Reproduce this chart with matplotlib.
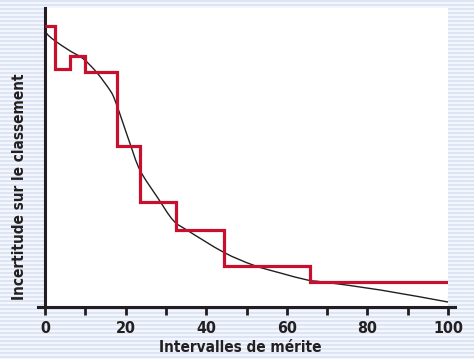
import numpy as np
import matplotlib
matplotlib.use("Agg")
import matplotlib.pyplot as plt
from matplotlib.path import Path
from matplotlib.patches import PathPatch

# smooth uncertainty curve
curve_x = [0, 0.5, 2.5, 6.2, 9.5, 12.9, 16.2, 17.4, 19.4, 21.1, 23.6, 27.9,
           31.8, 35.3, 44.3, 51.7, 58.5, 65.2, 69.2, 83.3, 100]
curve_y = [278, 273, 266, 256, 248, 234, 216, 206, 183, 163, 136, 109,
           86, 76, 54, 41, 33, 26, 24, 16, 4]

# step function (interval edges and level in each interval)
step_edges = [0, 2.5, 6.2, 10, 17.9, 23.6, 32.6, 44.3, 65.7, 100]
step_vals = [281, 238, 251, 235, 161, 104, 76, 40, 24]

xticks_major = [0, 20, 40, 60, 80, 100]
xticks_minor = [10, 30, 50, 70, 90]

font = ['Liberation Sans Narrow', 'DejaVu Sans']
txt_col = '#231f20'

W, H = 474, 359
fig = plt.figure(figsize=(W / 100, H / 100), dpi=100)
fig.patch.set_facecolor('#f3f6fc')

# striped background
bg = fig.add_axes([0, 0, 1, 1], zorder=-1)
bg.set_xlim(0, W)
bg.set_ylim(H, 0)
bg.axis('off')
for yy in np.arange(0.5, H, 4):
    bg.axhline(yy, color='#dbe4f4', lw=1.3)

ax = fig.add_axes([45 / W, 52 / H, 403 / W, 299 / H])
ax.set_facecolor('white')
ax.set_xlim(0, 100)
ax.set_ylim(-1, 299)

# smooth the read points with bezier segments (catmull-rom style)
px = np.array(curve_x, float)
py = np.array(curve_y, float)
verts = [(px[0], py[0])]
codes = [Path.MOVETO]
for i in range(len(px) - 1):
    p0 = (px[max(i - 1, 0)], py[max(i - 1, 0)])
    p1 = (px[i], py[i])
    p2 = (px[i + 1], py[i + 1])
    p3 = (px[min(i + 2, len(px) - 1)], py[min(i + 2, len(px) - 1)])
    c1 = (p1[0] + (p2[0] - p0[0]) / 6, p1[1] + (p2[1] - p0[1]) / 6)
    c2 = (p2[0] - (p3[0] - p1[0]) / 6, p2[1] - (p3[1] - p1[1]) / 6)
    verts += [c1, c2, p2]
    codes += [Path.CURVE4] * 3
ax.add_patch(PathPatch(Path(verts, codes), fill=False, edgecolor='#231f20',
                       lw=1.0, zorder=2))
ax.stairs(step_vals, step_edges, baseline=None, color='#c8102e', lw=2.3, zorder=3)

for s in ['top', 'right']:
    ax.spines[s].set_visible(False)
ax.spines['left'].set_linewidth(2.2)
ax.spines['bottom'].set_linewidth(2.2)
ax.spines['left'].set_color(txt_col)
ax.spines['bottom'].set_color(txt_col)
ax.spines['bottom'].set_bounds(-1.8, 101.8)

ax.set_yticks([])
ax.set_xticks(xticks_major)
ax.set_xticks(xticks_minor, minor=True)
ax.tick_params(axis='x', which='both', length=6, width=2, color=txt_col, pad=4)
ax.set_xticklabels([str(v) for v in xticks_major], family=font,
                   fontweight='bold', fontsize=11.5, fontstretch='condensed',
                   color=txt_col)

fig.text(240 / W, 1 - 347 / H, 'Intervalles de mérite', family=font,
         fontweight='bold', fontsize=11, fontstretch='condensed', color=txt_col,
         ha='center', va='center')
fig.text(20 / W, 1 - 187 / H, 'Incertitude sur le classement', family=font,
         fontweight='bold', fontsize=11, fontstretch='condensed', color=txt_col,
         ha='center', va='center', rotation=90)

fig.savefig('out.png', dpi=100, facecolor=fig.get_facecolor())
